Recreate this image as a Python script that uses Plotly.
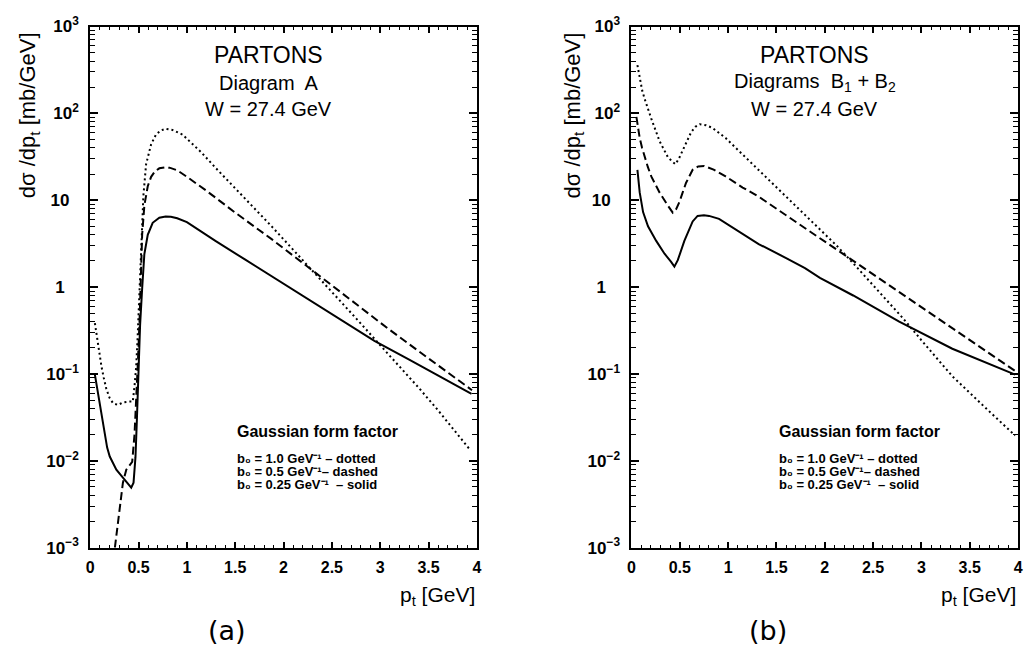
import plotly.graph_objects as go

W, H = 1032, 664

# ---------------- data: panel (a) Diagram A ----------------
a_dot_x = [0.048, 0.065, 0.082, 0.1, 0.116, 0.14, 0.167, 0.2, 0.236, 0.287, 0.338, 0.4, 0.44,
           0.458, 0.475, 0.49, 0.505, 0.515, 0.527, 0.55, 0.578, 0.63, 0.68, 0.73, 0.78, 0.85,
           0.954, 1.05, 1.15, 1.3, 1.5, 1.7, 1.877, 2.0, 2.2, 2.4, 2.6, 2.8, 3.0, 3.2, 3.4,
           3.6, 3.8, 3.92]
a_dot_y = [0.385, 0.28, 0.204, 0.155, 0.122, 0.09, 0.067, 0.053, 0.046, 0.044, 0.047, 0.048, 0.048,
           0.072, 0.12, 0.26, 0.7, 1.3, 3.7, 11.3, 26, 44, 57, 63.5, 66.5, 64.5,
           57, 45.7, 35.5, 23.4, 13.8, 8.1, 5.0, 3.55, 2.04, 1.17, 0.68, 0.38, 0.214, 0.123, 0.069,
           0.038, 0.0204, 0.0138]

a_dash_x = [0.255, 0.263, 0.304, 0.338, 0.373, 0.434, 0.458, 0.475, 0.492, 0.51, 0.52, 0.537,
            0.56, 0.595, 0.63, 0.67, 0.715, 0.77, 0.82, 0.9, 1.0, 1.2, 1.5, 1.877, 2.2, 2.53,
            2.8, 3.07, 3.5, 3.91, 3.95]
a_dash_y = [0.001, 0.0012, 0.0028, 0.0056, 0.0079, 0.0097, 0.020, 0.044, 0.13, 0.40, 1.3, 4.0,
            8.7, 14.5, 18.6, 21.5, 23.3, 23.8, 23.7, 22.1, 18.6, 12.9, 7.2, 3.56, 1.89, 0.986,
            0.575, 0.34, 0.151, 0.070, 0.065]

a_sol_x = [0.048, 0.075, 0.099, 0.125, 0.15, 0.175, 0.202, 0.27, 0.338, 0.39, 0.424, 0.448,
           0.468, 0.482, 0.499, 0.516, 0.537, 0.56, 0.595, 0.646, 0.715, 0.78, 0.834, 0.9, 1.0,
           1.295, 1.6, 1.877, 2.2, 2.595, 2.94, 3.3, 3.6, 3.945]
a_sol_y = [0.098, 0.065, 0.044, 0.028, 0.0186, 0.0142, 0.0112, 0.0079, 0.0064, 0.0055, 0.0049, 0.0056,
           0.011, 0.0285, 0.1, 0.37, 0.96, 2.4, 4.0, 5.5, 6.3, 6.5, 6.46, 6.2, 5.6,
           3.4, 2.08, 1.33, 0.79, 0.42, 0.24, 0.146, 0.095, 0.059]

# ---------------- data: panel (b) Diagrams B1 + B2 ----------------
b_dot_x = [0.0615, 0.085, 0.11, 0.137, 0.17, 0.205, 0.29, 0.376, 0.42, 0.455, 0.49, 0.53, 0.57,
           0.615, 0.66, 0.708, 0.77, 0.838, 0.974, 1.146, 1.316, 1.487, 1.61, 1.76, 2.123,
           2.294, 2.55, 2.807, 3.05, 3.32, 3.65, 3.97]
b_dot_y = [359, 245, 185, 146, 112, 87, 48, 31.4, 28, 26, 30, 37, 47,
           60, 70, 75, 73, 68, 52, 34, 22.4, 14.6, 10.8, 7.3, 3.0,
           1.88, 0.91, 0.44, 0.21, 0.094, 0.042, 0.0195]

b_dash_x = [0.051, 0.07, 0.085, 0.11, 0.137, 0.17, 0.205, 0.29, 0.376, 0.427, 0.46, 0.495, 0.53,
            0.564, 0.633, 0.69, 0.752, 0.85, 0.974, 1.15, 1.316, 1.61, 1.76, 2.123, 2.465,
            2.977, 3.49, 3.97]
b_dash_y = [91, 66, 52, 40, 31.4, 24, 18.8, 12.3, 8.7, 7.2, 7.8, 9.5, 12.3,
            15.8, 22.4, 24.5, 24.8, 22.5, 18.8, 14.0, 11.0, 6.6, 5.1, 2.75, 1.5,
            0.62, 0.25, 0.108]

b_sol_x = [0.0615, 0.085, 0.12, 0.171, 0.256, 0.342, 0.41, 0.444, 0.479, 0.547, 0.633, 0.684,
           0.75, 0.803, 0.906, 1.1, 1.316, 1.61, 1.795, 1.95, 2.294, 2.77, 3.32, 3.97]
b_sol_y = [22.4, 12.3, 7.3, 5.0, 3.4, 2.42, 1.95, 1.72, 2.04, 3.4, 5.7, 6.6,
           6.7, 6.6, 6.1, 4.4, 3.13, 2.13, 1.65, 1.28, 0.80, 0.40, 0.195, 0.098]

# ---------------- ticks ----------------
x_tick_vals = [0, 0.5, 1, 1.5, 2, 2.5, 3, 3.5, 4]
x_tick_text = ["0", "0.5", "1", "1.5", "2", "2.5", "3", "3.5", "4"]
y_tick_vals = [1e-3, 1e-2, 1e-1, 1, 10, 100, 1000]
y_tick_text = ["10<sup>−3</sup>", "10<sup>−2</sup>", "10<sup>−1</sup>",
               "1\u00a0\u00a0\u00a0", "10\u00a0\u00a0", "10<sup>2</sup>", "10<sup>3</sup>"]
y_minor_vals = [m * 10.0 ** e for e in range(-3, 3) for m in range(2, 10)]

FONT = "Liberation Sans"

fig = go.Figure()

def add_curves(xd, yd, dash, xa, ya):
    fig.add_trace(go.Scatter(x=xd, y=yd, mode="lines", xaxis=xa, yaxis=ya,
                             line=dict(color="black", width=2, dash=dash),
                             showlegend=False, hoverinfo="skip"))

add_curves(a_dot_x, a_dot_y, "2px,3px", "x", "y")
add_curves(a_dash_x, a_dash_y, "8px,4px", "x", "y")
add_curves(a_sol_x, a_sol_y, "solid", "x", "y")
add_curves(b_dot_x, b_dot_y, "2px,3px", "x2", "y2")
add_curves(b_dash_x, b_dash_y, "8px,4px", "x2", "y2")
add_curves(b_sol_x, b_sol_y, "solid", "x2", "y2")

ydom = [1 - 554 / H, 1 - 15 / H]

def xaxis_cfg(dom, anchor):
    return dict(domain=dom, anchor=anchor, range=[0, 4], showgrid=False, zeroline=False,
                showline=True, linecolor="black", linewidth=2, mirror="allticks",
                ticks="inside", ticklen=6, tickwidth=1.5, tickcolor="black",
                tickvals=x_tick_vals, ticktext=x_tick_text, ticklabelstandoff=4,
                tickfont=dict(family=FONT, size=16, color="black", weight="bold"),
                minor=dict(dtick=0.1, ticks="inside", ticklen=3, tickwidth=1.2,
                           tickcolor="black", showgrid=False))

def yaxis_cfg(anchor):
    return dict(domain=ydom, anchor=anchor, type="log", range=[-3, 3], showgrid=False,
                zeroline=False, showline=True, linecolor="black", linewidth=2,
                mirror="allticks", ticks="inside", ticklen=8, tickwidth=1.5,
                tickcolor="black", tickvals=y_tick_vals, ticktext=y_tick_text,
                ticklabelstandoff=6,
                tickfont=dict(family=FONT, size=17, color="black", weight="bold"),
                minor=dict(tickvals=y_minor_vals, ticks="inside", ticklen=5, tickwidth=1.2,
                           tickcolor="black", showgrid=False))

def P(px, py):
    return px / W, 1 - py / H

annotations = []

def ann(text, px, py, size, xanchor="center", weight="normal", angle=0, family=FONT):
    x, y = P(px, py)
    annotations.append(dict(text=text, x=x, y=y, xref="paper", yref="paper",
                            xanchor=xanchor, yanchor="middle", showarrow=False,
                            textangle=angle,
                            font=dict(family=family, size=size, color="black", weight=weight)))

for off, diag, tx in [(0, "Diagram  A", 267), (547, "Diagrams  B<sub>1</sub> + B<sub>2</sub>", 818)]:
    ann("PARTONS", tx, 44, 23)
    ann(diag, tx, 73, 20)
    ann("W = 27.4 GeV", tx, 100, 20)
    lx = 233 + off
    ann("Gaussian form factor", lx, 434, 16, xanchor="left", weight="bold")
    ann("b\u2080 = 1.0 GeV\u207b\u00b9 – dotted", lx, 461.5, 13, xanchor="left", weight="bold")
    ann("b\u2080 = 0.5 GeV\u207b\u00b9– dashed", lx, 475, 13, xanchor="left", weight="bold")
    ann("b\u2080 = 0.25 GeV\u207b\u00b9  – solid", lx, 488.5, 13, xanchor="left", weight="bold")
    ann("dσ /dp<sub>t</sub> [mb/GeV]", 26 + 549 * (off > 0), 107, 22, angle=-90)
    ann("p<sub>t</sub> [GeV]", 477 + off - 1 * (off > 0), 604, 21, xanchor="right")

ann("(a)", 225, 640, 27, family="DejaVu Sans")
ann("(b)", 771, 640, 27, family="DejaVu Sans")

fig.update_layout(
    width=W, height=H, margin=dict(l=0, r=0, t=0, b=0),
    paper_bgcolor="white", plot_bgcolor="white",
    xaxis=xaxis_cfg([87 / W, 477 / W], "y"),
    yaxis=yaxis_cfg("x"),
    xaxis2=xaxis_cfg([633 / W, 1023 / W], "y2"),
    yaxis2=yaxis_cfg("x2"),
    annotations=annotations,
)

fig.write_html("out.html")
